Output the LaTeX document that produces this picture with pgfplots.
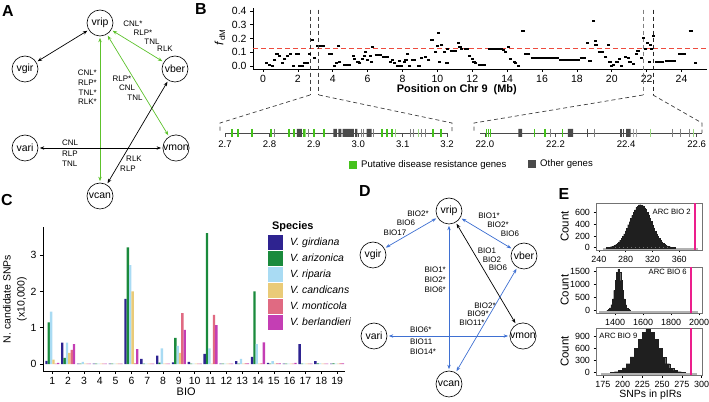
\documentclass[border=0pt]{standalone}
\usepackage{fontspec}
\setmainfont{Liberation Sans}
\usepackage{pgfplots}
\pgfplotsset{compat=1.18}
\usetikzlibrary{arrows.meta}
\definecolor{gir}{HTML}{2E2390}
\definecolor{ari}{HTML}{1A8A3C}
\definecolor{rip}{HTML}{A9DBF3}
\definecolor{cand}{HTML}{EACB78}
\definecolor{mont}{HTML}{E06A82}
\definecolor{berl}{HTML}{C43EB4}
\definecolor{agreen}{HTML}{5DC22C}
\definecolor{dblue}{HTML}{3F70D2}
\definecolor{ggreen}{HTML}{45C21C}
\definecolor{lgreen}{HTML}{9AD880}
\definecolor{ggrey}{HTML}{4A4A4A}
\definecolor{tgrey}{HTML}{808080}
\definecolor{bred}{HTML}{EE4B3E}
\definecolor{hpink}{RGB}{236,30,140}
\newcommand{\fs}[1]{\fontsize{#1}{#1}\selectfont}
\pgfplotsset{
  rstyle/.style={scale only axis, anchor=south west, clip=false,
    axis lines=left, axis line style={-, line width=0.6bp},
    tick align=outside, major tick length=3bp, tick style={line width=0.6bp, black},
    /pgf/number format/assume math mode=true, scaled ticks=false,
    /pgf/number format/1000 sep={}},
  hist/.style={scale only axis, anchor=south west, clip=false, width=106bp,
    axis line style={black!55, line width=0.6bp},
    xtick pos=bottom, ytick pos=left,
    tick align=outside, major tick length=2.5bp, tick style={line width=0.6bp, black},
    /pgf/number format/assume math mode=true, scaled ticks=false,
    /pgf/number format/1000 sep={},
    tick label style={font=\fs{9}},
    ylabel={Count}, ylabel style={font=\fs{11.5}, at={(axis description cs:-0.295,0.5)}, anchor=center}},
  gene/.style={scale only axis, anchor=south west, clip=false, height=4bp,
    ymin=0, ymax=1, axis x line*=bottom, axis y line=none,
    axis line style={-, ggrey, line width=0.9bp},
    tick align=outside, major tick length=4bp, tick style={line width=0.7bp, ggrey},
    /pgf/number format/assume math mode=true,
    xticklabel style={font=\fs{9.6}, /pgf/number format/.cd, fixed, fixed zerofill, precision=1}},
}
\begin{document}
\begin{tikzpicture}
\path[use as bounding box] (0,0) rectangle (709bp,402bp);

% ---------------- Panel B ----------------
\begin{axis}[rstyle,
  at={(253bp,333bp)}, width=454bp, height=61bp,
  xmin=-0.573, xmax=25.46, ymin=-0.022, ymax=0.422,
  xtick={0,2,...,24}, ytick={0,0.1,0.2,0.3,0.4},
  yticklabel style={/pgf/number format/.cd, fixed, fixed zerofill, precision=1},
  tick label style={font=\fs{10.5}},
  xlabel={\textbf{Position on Chr 9\ \ (Mb)}},
  xlabel style={font=\fs{11}, at={(axis description cs:0.449,-0.344)}, anchor=center},
  ylabel={\textit{f}\textsubscript{dM}},
  ylabel style={font=\fs{12}, at={(axis description cs:-0.073,0.52)}, anchor=center},
]
\addplot[bred, dash pattern=on 5bp off 3bp, line width=1bp] coordinates {(-0.573,0.125)(25.46,0.125)};
\addplot[only marks, mark=-, mark size=1.6bp, mark options={line width=2bp, black}] table {
x y
0.19 0.02
0.38 0.01
0.54 0.00
0.67 0.04
0.80 0.09
0.95 0.07
1.10 0.02
1.25 0.05
1.40 0.07
1.57 0.09
1.75 0.00
2.12 0.00
2.25 0.00
2.40 0.02
2.52 0.02
2.68 0.09
2.97 0.06
4.08 0.00
4.22 0.02
4.35 0.145
4.40 0.03
5.18 0.07
5.25 0.05
5.45 0.03
5.55 0.02
5.70 0.05
5.83 0.07
5.90 0.10
6.00 0.04
6.15 0.07
6.22 0.03
6.30 0.135
7.30 0.03
7.42 0.045
7.55 0.02
7.85 0.035
8.10 0.03
8.20 0.045
8.30 0.09
8.42 0.00
8.95 0.00
9.10 0.06
9.30 0.065
9.50 0.045
9.90 0.10
10.00 0.145
10.05 0.24
10.12 0.03
10.25 0.15
10.40 0.10
10.55 0.02
10.60 0.12
11.20 0.17
11.30 0.14
11.38 0.12
11.85 0.07
12.00 0.05
12.10 0.03
12.20 0.02
13.80 0.115
13.90 0.10
14.10 0.14
14.20 0.05
14.40 0.03
14.50 0.02
14.65 0.00
15.05 0.09
15.22 0.09
18.60 0.165
18.75 0.035
18.95 0.33
19.05 0.18
19.10 0.15
19.65 0.065
19.80 0.155
19.90 0.03
20.00 0.00
20.10 0.01
20.30 0.03
20.42 0.05
20.55 0.00
20.80 0.065
20.95 0.06
21.05 0.03
21.25 0.015
21.40 0.09
21.50 0.11
21.70 0.06
21.80 0.20
21.95 0.12
22.05 0.17
22.15 0.03
22.22 0.15
22.30 0.12
22.38 0.22
24.80 0.02
};
\addplot[black, line width=2bp, unbounded coords=jump] table {
x y
1.85 0.09
2.10 0.09
nan nan
2.78 0.19
2.92 0.19
nan nan
3.05 0.145
3.55 0.145
nan nan
3.75 0.09
4.00 0.09
nan nan
4.60 0.01
5.05 0.01
nan nan
6.40 0.08
6.80 0.08
nan nan
6.80 0.065
7.20 0.065
nan nan
7.62 0.00
8.00 0.00
nan nan
8.50 0.045
8.80 0.045
nan nan
9.60 0.19
9.82 0.19
nan nan
10.70 0.11
11.10 0.11
nan nan
11.50 0.12
11.80 0.12
nan nan
12.30 0.01
12.80 0.01
nan nan
12.90 0.12
13.75 0.12
nan nan
14.80 0.255
15.00 0.255
nan nan
15.35 0.06
17.00 0.06
nan nan
17.00 0.045
18.15 0.045
nan nan
18.15 0.055
18.50 0.055
nan nan
19.20 0.10
19.55 0.10
nan nan
22.50 0.03
23.00 0.03
nan nan
23.05 0.035
23.70 0.035
nan nan
23.80 0.09
24.25 0.09
nan nan
24.40 0.255
24.65 0.255
};
\addplot[black!75, dash pattern=on 4bp off 3bp, line width=0.7bp] coordinates {(2.7,0.41)(2.7,-0.21)};
\addplot[black!75, dash pattern=on 4bp off 3bp, line width=0.7bp] coordinates {(3.2,0.41)(3.2,-0.21)};
\addplot[black!50, dash pattern=on 4bp off 3bp, line width=0.7bp] coordinates {(21.8,0.41)(21.8,-0.21)};
\addplot[black!85, dash pattern=on 4bp off 3bp, line width=0.7bp] coordinates {(22.4,0.41)(22.4,-0.21)};
\end{axis}

% ---------------- Gene panels ----------------
\begin{axis}[gene, at={(225bp,269bp)}, width=223bp, xmin=2.7, xmax=3.202,
  xtick={2.7,2.8,2.9,3.0,3.1,3.2}]
\addplot[tgrey, only marks, mark=|, mark size=4bp, mark options={line width=0.8bp}] coordinates {
(2.812,0)(2.888,0)(3.006,0)(3.011,0)(3.035,0)(3.118,0)(3.124,0)(3.141,0)(3.150,0)};
\addplot[ggreen, only marks, mark=|, mark size=4bp, mark options={line width=2bp}] coordinates {
(2.716,0)(2.730,0)(2.760,0)(2.803,0)(2.845,0)(2.855,0)(2.878,0)(2.900,0)(2.923,0)(3.053,0)(3.064,0)(3.075,0)(3.168,0)(3.186,0)};
\addplot[lgreen, only marks, mark=|, mark size=4bp, mark options={line width=1bp}] coordinates {
(2.882,0)(3.083,0)(3.135,0)};
\addplot[ggrey, fill=ggrey, draw=none] coordinates {(2.862,-1)(2.873,-1)(2.873,1)(2.862,1)(2.862,-1)};
\addplot[ggrey, fill=ggrey, draw=none] coordinates {(2.944,-1)(2.952,-1)(2.952,1)(2.944,1)(2.944,-1)};
\addplot[ggrey, fill=ggrey, draw=none] coordinates {(2.955,-1)(2.962,-1)(2.962,1)(2.955,1)(2.955,-1)};
\addplot[ggrey, fill=ggrey, draw=none] coordinates {(2.965,-1)(2.990,-1)(2.990,1)(2.965,1)(2.965,-1)};
\addplot[ggrey, fill=ggrey, draw=none] coordinates {(2.993,-1)(2.998,-1)(2.998,1)(2.993,1)(2.993,-1)};
\addplot[ggrey, fill=ggrey, draw=none] coordinates {(3.019,-1)(3.030,-1)(3.030,1)(3.019,1)(3.019,-1)};
\end{axis}
\begin{axis}[gene, at={(480bp,269bp)}, width=222bp, xmin=21.986, xmax=22.615,
  xtick={22.0,22.2,22.4,22.6}]
\addplot[tgrey, only marks, mark=|, mark size=4bp, mark options={line width=0.8bp}] coordinates {
(22.185,0)(22.31,0)(22.53,0)(22.555,0)(22.58,0)};
\addplot[black!35, only marks, mark=|, mark size=4bp, mark options={line width=1bp}] coordinates {
(22.42,0)(22.43,0)};
\addplot[ggrey, only marks, mark=|, mark size=4bp, mark options={line width=1.6bp}] coordinates {
(22.29,0)(22.385,0)(22.393,0)};
\addplot[ggreen, only marks, mark=|, mark size=4bp, mark options={line width=1.5bp}] coordinates {
(22.005,0)(22.010,0)(22.016,0)(22.14,0)(22.17,0)(22.22,0)};
\addplot[lgreen, only marks, mark=|, mark size=4bp, mark options={line width=1bp}] coordinates {
(22.47,0)(22.59,0)};
\addplot[ggrey, fill=ggrey, draw=none] coordinates {(22.095,-1)(22.105,-1)(22.105,1)(22.095,1)(22.095,-1)};
\addplot[ggrey, fill=ggrey, draw=none] coordinates {(22.235,-1)(22.250,-1)(22.250,1)(22.235,1)(22.235,-1)};
\addplot[ggrey, fill=ggrey, draw=none] coordinates {(22.400,-1)(22.413,-1)(22.413,1)(22.400,1)(22.400,-1)};
\end{axis}

% ---------------- Panel C ----------------
\begin{axis}[rstyle,
  at={(43bp,31bp)}, width=302bp, height=144bp,
  xmin=0.41, xmax=19.5, ymin=-0.19, ymax=3.77,
  ybar=0pt, bar width=2.35bp,
  xtick={1,...,19}, ytick={0,1,2,3},
  tick label style={font=\fs{10.5}},
  xlabel={BIO},
  xlabel style={font=\fs{11}, at={(axis description cs:0.474,-0.146)}, anchor=center},
  ylabel={N. candidate SNPs\\(x10,000)},
  ylabel style={font=\fontsize{10.5}{14}\selectfont, align=center, at={(axis description cs:-0.093,0.5)}, anchor=center},
  legend style={at={(0.745,0.944)}, anchor=north west, draw=none, fill=none, inner sep=0pt,
    font=\fs{10.5}\itshape, row sep=1bp, column sep=6bp, nodes={inner sep=1bp}},
  legend cell align=left,
  legend image code/.code={\fill[#1] (0bp,-7.5bp) rectangle (15bp,7.5bp);},
]
\addplot[fill=gir, draw=none] table {
x y
1 0.09
2 0.59
3 0.01
4 0.01
5 0.01
6 1.79
7 0.14
8 0.23
9 0.05
10 0.06
11 0.28
12 0.01
13 0.08
14 0.20
15 0.03
16 0.01
17 0.55
18 0.08
19 0.01
};
\addlegendentry{V. girdiana}
\addplot[fill=ari, draw=none] table {
x y
1 1.15
2 0.17
3 0.01
4 0.01
5 0.01
6 3.21
7 0.01
8 0.04
9 0.72
10 0.01
11 3.60
12 0.01
13 0.01
14 2.00
15 0.01
16 0.01
17 0.01
18 0.02
19 0.02
};
\addlegendentry{V. arizonica}
\addplot[fill=rip, draw=none] table {
x y
1 1.44
2 0.59
3 0.06
4 0.01
5 0.01
6 2.72
7 0.01
8 0.43
9 0.50
10 0.01
11 0.43
12 0.01
13 0.14
14 0.55
15 0.08
16 0.01
17 0.01
18 0.02
19 0.01
};
\addlegendentry{V. riparia}
\addplot[fill=cand, draw=none] table {
x y
1 0.12
2 0.31
3 0.01
4 0.01
5 0.01
6 2.00
7 0.01
8 0.01
9 0.31
10 0.01
11 0.01
12 0.01
13 0.01
14 0.01
15 0.01
16 0.01
17 0.01
18 0.01
19 0.01
};
\addlegendentry{V. candicans}
\addplot[fill=mont, draw=none] table {
x y
1 0.01
2 0.39
3 0.01
4 0.01
5 0.01
6 0.02
7 0.01
8 0.01
9 1.40
10 0.01
11 1.35
12 0.01
13 0.02
14 0.02
15 0.02
16 0.01
17 0.01
18 0.01
19 0.02
};
\addlegendentry{V. monticola}
\addplot[fill=berl, draw=none] table {
x y
1 0.03
2 0.55
3 0.01
4 0.01
5 0.01
6 0.41
7 0.01
8 0.01
9 0.94
10 0.01
11 1.07
12 0.01
13 0.02
14 0.60
15 0.02
16 0.03
17 0.01
18 0.01
19 0.02
};
\addlegendentry{V. berlandieri}
\node[anchor=west, inner sep=0pt, font=\bfseries\fs{11}] at (axis description cs:0.758,1.0) {Species};
\end{axis}

% ---------------- Panel E ----------------
\begin{axis}[hist, at={(596bp,152bp)}, height=47bp,
  xmin=235.6, xmax=394, ymin=-39, ymax=767,
  xtick={240,280,320,360}, ytick={0,200,400,600}]
\addplot[black!30, line width=2bp] coordinates {(246,-22)(388,-22)};
\addplot[ybar interval, fill=black!88, draw=black!88, line width=0.1bp] table {
x y
251 6
253 8
255 12
257 17
259 24
261 33
263 44
265 58
267 78
269 99
271 129
273 158
275 199
277 238
279 290
281 337
283 395
285 447
287 507
289 556
291 612
293 650
295 693
297 714
299 736
301 738
303 731
305 719
307 686
309 656
311 605
313 562
315 502
317 452
319 390
321 342
323 285
325 243
327 196
329 162
331 126
333 102
335 76
337 60
339 43
341 33
343 23
345 17
347 12
349 8
351 6
353 0
};
\addplot[draw=hpink, color=hpink, line width=1.9bp] coordinates {(384,-39)(384,767)};
\node[anchor=east, inner sep=0pt, font=\fs{7.7}] at (axis description cs:0.895,0.81) {ARC BIO 2};
\end{axis}

\begin{axis}[hist, at={(596bp,89bp)}, height=46bp,
  xmin=1264, xmax=2021, ymin=-106, ymax=1684,
  xtick={1400,1600,1800,2000}, ytick={0,500,1000,1500}]
\addplot[black!30, line width=2bp] coordinates {(1285,-60)(1990,-60)};
\addplot[ybar interval, fill=black!88, draw=black!88, line width=0.1bp] table {
x y
1340 9
1350 31
1360 92
1370 215
1380 448
1390 776
1400 1165
1410 1470
1420 1598
1430 1480
1440 1158
1450 782
1460 441
1470 219
1480 88
1490 33
1500 11
1510 0
};
\addplot[draw=hpink, color=hpink, line width=1.9bp] coordinates {(1945,-106)(1945,1684)};
\node[anchor=east, inner sep=0pt, font=\fs{7.7}] at (axis description cs:0.857,0.89) {ARC BIO 6};
\end{axis}

\begin{axis}[hist, at={(596bp,27bp)}, height=47bp,
  xmin=166.2, xmax=300.5, ymin=-68, ymax=1120,
  xtick={175,200,225,250,275,300}, ytick={0,300,600,900},
  xlabel={SNPs in pIRs},
  xlabel style={font=\fs{10.5}, at={(axis description cs:0.514,-0.43)}, anchor=center}]
\addplot[black!30, line width=2bp] coordinates {(172,-38)(294,-38)};
\addplot[ybar interval, fill=black!88, draw=black!88, line width=0.1bp] table {
x y
184.5 6
189.5 19
194.5 46
199.5 111
204.5 217
209.5 392
214.5 605
219.5 840
224.5 1010
229.5 1084
234.5 1015
239.5 833
244.5 611
249.5 386
254.5 221
259.5 107
264.5 48
269.5 17
274.5 6
279.5 0
};
\addplot[draw=hpink, color=hpink, line width=1.9bp] coordinates {(287,-68)(287,1120)};
\node[anchor=west, inner sep=0pt, font=\fs{7.7}] at (axis description cs:0.03,0.83) {ARC BIO 9};
\end{axis}

% ---------------- Diagrams and decorations ----------------
\begin{scope}[x=1bp, y=-1bp, shift={(0bp,402bp)}]
\tikzset{
  gn/.style={circle, draw, line width=0.6bp, minimum size=26bp, inner sep=0pt, font=\fs{10.5}},
  lab/.style={font=\fs{8}, inner sep=0pt},
  ed/.style={{Stealth[length=4.5bp,width=3.4bp]}-{Stealth[length=4.5bp,width=3.4bp]}, line width=0.7bp, shorten <=1.5bp, shorten >=1.5bp},
  pl/.style={font=\bfseries\fs{16}, inner sep=0pt},
  dsh/.style={black!75, dash pattern=on 4bp off 3bp, line width=0.7bp}
}
\node[pl] at (8,11) {A};
\node[pl] at (201,9) {B};
\node[pl] at (7,200) {C};
\node[pl] at (365,191) {D};
\node[pl] at (564,194) {E};
% Panel A
\node[gn] (a1) at (100,23) {vrip};
\node[gn] (a2) at (25,69) {vgir};
\node[gn] (a3) at (175,69) {vber};
\node[gn] (a4) at (25,148) {vari};
\node[gn] (a5) at (176,148) {vmon};
\node[gn] (a6) at (100,196) {vcan};
\draw[ed] (a1) -- (a2);
\draw[ed, agreen] (a1) -- (a3);
\draw[ed, agreen] (a1) -- (a6);
\draw[ed, agreen] (a1) -- (a5);
\draw[ed] (a4) -- (a5);
\draw[ed] (a6) -- (a3);
\node[lab] at (133,24) {CNL*};
\node[lab] at (143,33) {RLP*};
\node[lab] at (152,42) {TNL};
\node[lab] at (165,49) {RLK};
\node[lab, anchor=east] at (97,73) {CNL*};
\node[lab, anchor=east] at (97,83) {RLP*};
\node[lab, anchor=east] at (97,93) {TNL*};
\node[lab, anchor=east] at (97,102) {RLK*};
\node[lab] at (122,79) {RLP*};
\node[lab] at (127,88) {CNL};
\node[lab] at (135,98) {TNL};
\node[lab, anchor=west] at (62,143) {CNL};
\node[lab, anchor=west] at (62,154) {RLP};
\node[lab, anchor=west] at (62,164) {TNL};
\node[lab] at (134,159) {RLK};
\node[lab] at (128,169) {RLP};
% Panel D
\node[gn] (d1) at (449,211) {vrip};
\node[gn] (d2) at (373,255) {vgir};
\node[gn] (d3) at (524,256) {vber};
\node[gn] (d4) at (374,336) {vari};
\node[gn] (d5) at (523,336) {vmon};
\node[gn] (d6) at (449,384) {vcan};
\draw[ed, dblue] (d1) -- (d2);
\draw[ed, dblue] (d1) -- (d3);
\draw[ed, dblue] (d1) -- (d6);
\draw[ed] (d1) -- (d5);
\draw[ed, dblue] (d4) -- (d5);
\draw[ed, dblue] (d6) -- (d3);
\node[lab] at (418,214) {BIO2*};
\node[lab] at (406,223) {BIO6};
\node[lab] at (395,233) {BIO17};
\node[lab] at (489,216) {BIO1*};
\node[lab] at (498,225) {BIO2*};
\node[lab] at (510,234) {BIO6};
\node[lab, anchor=east] at (446,270) {BIO1*};
\node[lab, anchor=east] at (446,280) {BIO2*};
\node[lab, anchor=east] at (446,290) {BIO6*};
\node[lab] at (487,251) {BIO1};
\node[lab] at (492,260) {BIO2};
\node[lab] at (498,268) {BIO6};
\node[lab] at (485,306) {BIO2*};
\node[lab] at (478,314) {BIO9*};
\node[lab] at (472,323) {BIO11*};
\node[lab, anchor=west] at (410,330) {BIO6*};
\node[lab, anchor=west] at (410,342) {BIO11};
\node[lab, anchor=west] at (410,352) {BIO14*};
% zoom brackets
\draw[dsh] (310,95) -- (220,123) -- (220,133);
\draw[dsh] (319,95) -- (452,123) -- (452,133);
\draw[dsh] (643,95) -- (474,123) -- (474,133);
\draw[dsh] (653,95) -- (702,123) -- (702,133);
% gene legend
\fill[ggreen] (349,161) rectangle (357,169);
\node[anchor=west, inner sep=0pt, font=\fs{9.6}] at (361,165) {Putative disease resistance genes};
\fill[ggrey] (528,160) rectangle (536,168);
\node[anchor=west, inner sep=0pt, font=\fs{9.6}] at (540,164) {Other genes};
\end{scope}
\end{tikzpicture}
\end{document}
